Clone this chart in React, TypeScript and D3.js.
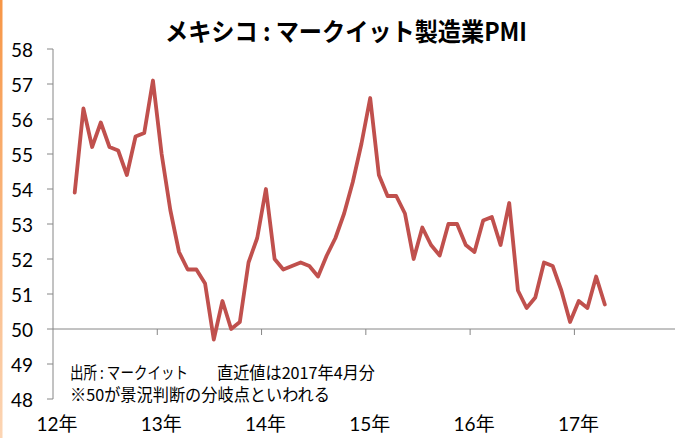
import React from "react";
import * as d3 from "d3";

const title = "メキシコ : マークイット製造業PMI";
const yearLabels = ["12年", "13年", "14年", "15年", "16年", "17年"];
const yTicks = [48, 49, 50, 51, 52, 53, 54, 55, 56, 57, 58];
// month index from Jan 2012 (0) ; first value is Mar 2012
const startMonth = 2;
const pmi = [
  53.9, 56.3, 55.2, 55.9, 55.2, 55.1, 54.4, 55.5, 55.6, 57.1,
  55.0, 53.4, 52.2, 51.7, 51.7, 51.3, 49.7, 50.8, 50.0, 50.2, 51.9, 52.6,
  54.0, 52.0, 51.7, 51.8, 51.9, 51.8, 51.5, 52.1, 52.6, 53.3, 54.2, 55.3,
  56.6, 54.4, 53.8, 53.8, 53.3, 52.0, 52.9, 52.4, 52.1, 53.0, 53.0, 52.4,
  52.2, 53.1, 53.2, 52.4, 53.6, 51.1, 50.6, 50.9, 51.9, 51.8, 51.1, 50.2,
  50.8, 50.6, 51.5, 50.7,
];
const noteSource = "出所 : マークイット";
const noteLatest = "直近値は2017年4月分";
const noteLine2 = "※50が景況判断の分岐点といわれる";

export default function App() {
  const W = 675;
  const H = 438;
  const axisX = 53;
  const monthW = 8.69;
  const x = d3.scaleLinear().domain([0, 72]).range([axisX, axisX + 72 * monthW]);
  const y = d3.scaleLinear().domain([48, 58]).range([399, 49]);
  const line = d3
    .line<number>()
    .x((_, i) => x(startMonth + i + 0.5))
    .y((d) => y(d));
  const font = "'Noto Sans CJK JP', 'Noto Sans', sans-serif";
  const numFont = "Lato, 'Noto Sans CJK JP', sans-serif";
  const axisColor = "#868686";
  return (
    <svg
      width={W}
      height={H}
      style={{ position: "absolute", left: 0, top: 0, background: "#fff" }}
    >
      <defs>
        <linearGradient id="edge" x1="0" y1="0" x2="0" y2="1">
          <stop offset="0" stopColor="#f79646" />
          <stop offset="1" stopColor="#fcd5b4" />
        </linearGradient>
      </defs>
      <rect x={0} y={0} width={W} height={H} fill="#fff" />
      <rect x={0} y={0} width={2.5} height={H} fill="url(#edge)" />
      <text
        x={165}
        y={30}
        dominantBaseline="central"
        fontFamily={font}
        fontWeight="bold"
        fontSize={25}
        fill="#000"
        textLength={362}
        lengthAdjust="spacingAndGlyphs"
      >
        {title}
      </text>
      {/* y axis */}
      <line x1={axisX} x2={axisX} y1={y(58)} y2={y(48)} stroke={axisColor} strokeWidth={1} />
      {yTicks.map((t) => (
        <g key={t}>
          <line x1={axisX - 6} x2={axisX} y1={y(t)} y2={y(t)} stroke={axisColor} strokeWidth={1} />
          <text
            x={33}
            y={y(t)}
            textAnchor="end"
            dominantBaseline="central"
            fontFamily={numFont}
            fontSize={19}
            fill="#000"
          >
            {t}
          </text>
        </g>
      ))}
      {/* x axis at 50 */}
      <line x1={axisX} x2={W} y1={y(50)} y2={y(50)} stroke={axisColor} strokeWidth={1} />
      {yearLabels.map((lab, i) => (
        <g key={lab}>
          {i > 0 && (
            <line
              x1={x(i * 12)}
              x2={x(i * 12)}
              y1={y(50)}
              y2={y(50) + 6}
              stroke={axisColor}
              strokeWidth={1}
            />
          )}
          <text
            x={x(i * 12) + 4}
            y={431}
            textAnchor="middle"
            fontFamily={numFont}
            fontSize={19}
            fill="#000"
          >
            {lab}
          </text>
        </g>
      ))}
      <path
        d={line(pmi) || ""}
        fill="none"
        stroke="#c0504d"
        strokeWidth={3.8}
        strokeLinejoin="round"
        strokeLinecap="round"
      />
      <text x={70} y={372} dominantBaseline="central" fontFamily={font} fontSize={16.5} fill="#000"
        textLength={118} lengthAdjust="spacingAndGlyphs">
        {noteSource}
      </text>
      <text x={217} y={372} dominantBaseline="central" fontFamily={font} fontSize={16.5} fill="#000"
        textLength={158} lengthAdjust="spacingAndGlyphs">
        {noteLatest}
      </text>
      <text x={70} y={394} dominantBaseline="central" fontFamily={font} fontSize={16.5} fill="#000"
        textLength={260} lengthAdjust="spacingAndGlyphs">
        {noteLine2}
      </text>
    </svg>
  );
}
